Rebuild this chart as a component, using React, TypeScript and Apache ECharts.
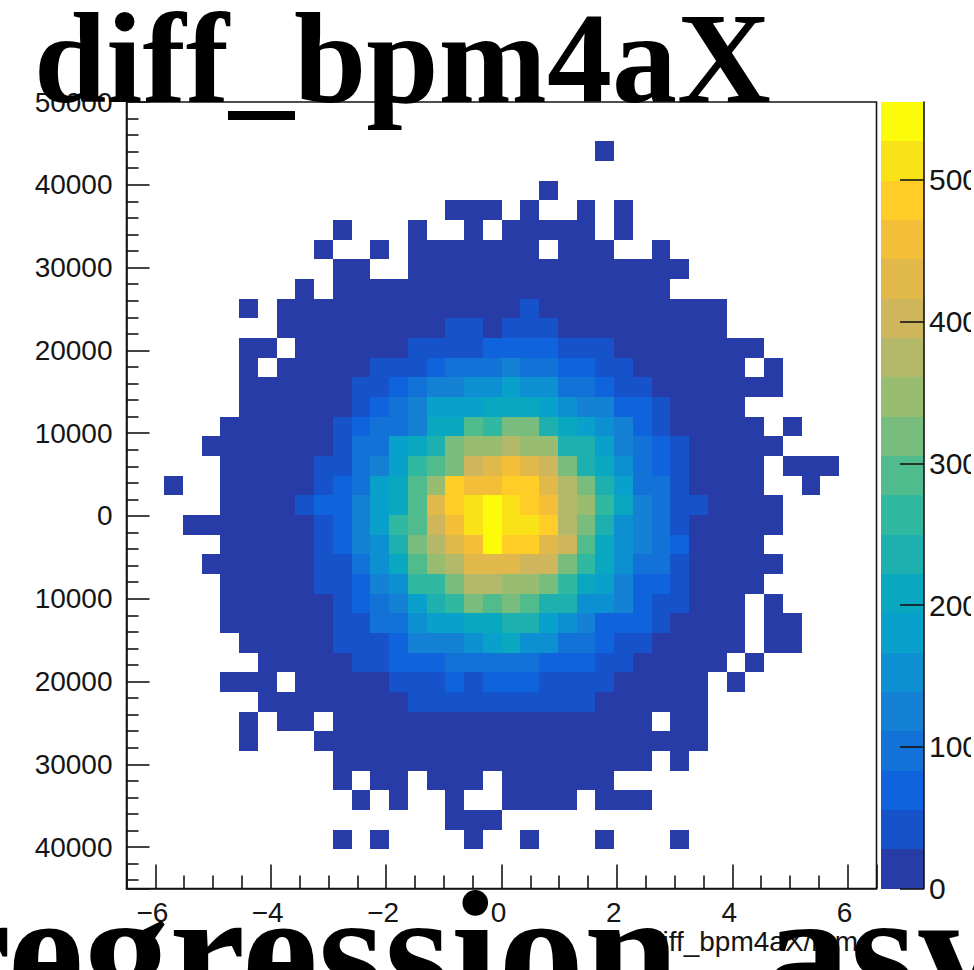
import React, { useEffect, useRef } from "react";
import * as echarts from "echarts";

const titleText = "diff_bpm4aX";
const lowerText = "regression_asy";
const xAxisTitle = "diff_bpm4aX/mm";

const xRange = [-6.5, 6.5];
const yRange = [-45000, 50000];
const zRange = [0, 555];
const binsPerAxis = 40;

// One representative count for each of the 20 contours
const contourCounts = [14, 42, 69, 97, 125, 153, 180, 208, 236, 264, 291, 319, 347, 375, 402, 430, 458, 486, 513, 541];
const palette = [
  "#273ca6", "#1652c9", "#0f63dc", "#1272d8", "#1481d4", "#0d90d2", "#09a0cc", "#0aa8c0", "#1eb0ae", "#30b8a0",
  "#50bb8c", "#78bd7e", "#98bc70", "#b3b968", "#cfb55c", "#e1b84a", "#f4bf38", "#ffcc28", "#f9e318", "#fbfb0a",
];

// Row number counted from the top, then runs of [first column, last column, contour]
const binRuns: [number, number[][]][] = [
  [2, [[25, 25, 0]]],
  [4, [[22, 22, 0]]],
  [5, [[17, 19, 0], [21, 21, 0], [24, 24, 0], [26, 26, 0]]],
  [6, [[11, 11, 0], [15, 15, 0], [18, 18, 0], [20, 24, 0], [26, 26, 0]]],
  [7, [[10, 10, 0], [13, 13, 0], [15, 21, 0], [23, 25, 0], [28, 28, 0]]],
  [8, [[11, 12, 0], [15, 29, 0]]],
  [9, [[9, 9, 0], [11, 28, 0]]],
  [10, [[6, 6, 0], [8, 20, 0], [21, 21, 1], [22, 31, 0]]],
  [11, [[8, 16, 0], [17, 18, 1], [19, 19, 0], [20, 22, 1], [23, 31, 0]]],
  [12, [[6, 7, 0], [9, 14, 0], [15, 18, 1], [19, 22, 2], [23, 25, 1], [26, 33, 0]]],
  [13, [[6, 6, 0], [8, 12, 0], [13, 15, 1], [16, 16, 2], [17, 19, 3], [20, 20, 4], [21, 22, 3], [23, 24, 2], [25, 26, 1], [27, 32, 0], [34, 34, 0]]],
  [14, [[6, 11, 0], [12, 13, 1], [14, 14, 2], [15, 15, 3], [16, 17, 4], [18, 19, 5], [20, 20, 6], [21, 22, 5], [23, 24, 3], [25, 25, 2], [26, 27, 1], [28, 34, 0]]],
  [15, [[6, 11, 0], [12, 12, 1], [13, 13, 2], [14, 14, 3], [15, 15, 4], [16, 18, 6], [19, 21, 7], [22, 22, 6], [23, 23, 5], [24, 25, 4], [26, 27, 2], [28, 28, 1], [29, 32, 0]]],
  [16, [[5, 10, 0], [11, 11, 1], [12, 12, 2], [13, 14, 3], [15, 15, 4], [16, 17, 7], [18, 18, 10], [19, 19, 9], [20, 21, 11], [22, 22, 8], [23, 23, 7], [24, 24, 6], [25, 25, 5], [26, 26, 4], [27, 27, 2], [28, 28, 1], [29, 33, 0], [35, 35, 0]]],
  [17, [[4, 10, 0], [11, 11, 1], [12, 13, 3], [14, 14, 6], [15, 15, 7], [16, 16, 8], [17, 17, 11], [18, 19, 12], [20, 20, 13], [21, 22, 12], [23, 24, 8], [25, 25, 6], [26, 26, 4], [27, 27, 3], [28, 28, 2], [29, 29, 1], [30, 34, 0]]],
  [18, [[5, 9, 0], [10, 11, 1], [12, 12, 3], [13, 13, 4], [14, 14, 6], [15, 15, 9], [16, 16, 10], [17, 17, 11], [18, 18, 14], [19, 19, 15], [20, 20, 16], [21, 21, 15], [22, 22, 14], [23, 23, 11], [24, 24, 8], [25, 25, 7], [26, 26, 5], [27, 27, 3], [28, 28, 2], [29, 29, 1], [30, 33, 0], [35, 37, 0]]],
  [19, [[2, 2, 0], [5, 9, 0], [10, 10, 1], [11, 11, 2], [12, 12, 3], [13, 13, 6], [14, 14, 7], [15, 15, 10], [16, 16, 12], [17, 17, 17], [18, 19, 16], [20, 21, 17], [22, 22, 15], [23, 23, 13], [24, 24, 11], [25, 25, 8], [26, 26, 6], [27, 28, 3], [29, 29, 1], [30, 33, 0], [36, 36, 0]]],
  [20, [[5, 8, 0], [9, 9, 1], [10, 11, 2], [12, 12, 4], [13, 13, 6], [14, 14, 7], [15, 15, 10], [16, 16, 15], [17, 17, 17], [18, 18, 18], [19, 19, 19], [20, 20, 18], [21, 21, 17], [22, 22, 16], [23, 23, 13], [24, 24, 12], [25, 25, 9], [26, 26, 7], [27, 27, 4], [28, 28, 3], [29, 30, 1], [31, 34, 0]]],
  [21, [[3, 9, 0], [10, 10, 1], [11, 11, 2], [12, 12, 4], [13, 13, 6], [14, 14, 9], [15, 15, 10], [16, 16, 14], [17, 17, 16], [18, 18, 18], [19, 19, 19], [20, 21, 18], [22, 22, 17], [23, 23, 13], [24, 24, 11], [25, 25, 8], [26, 26, 5], [27, 27, 4], [28, 28, 3], [29, 29, 1], [30, 34, 0]]],
  [22, [[5, 9, 0], [10, 10, 1], [11, 11, 2], [12, 12, 4], [13, 13, 5], [14, 14, 8], [15, 15, 11], [16, 16, 13], [17, 17, 15], [18, 18, 16], [19, 19, 19], [20, 21, 17], [22, 22, 15], [23, 23, 14], [24, 24, 10], [25, 25, 7], [26, 26, 5], [27, 27, 4], [28, 28, 3], [29, 29, 2], [30, 33, 0]]],
  [23, [[4, 9, 0], [10, 11, 1], [12, 12, 3], [13, 13, 5], [14, 14, 7], [15, 15, 10], [16, 16, 12], [17, 17, 13], [18, 20, 15], [21, 22, 14], [23, 23, 11], [24, 24, 9], [25, 25, 7], [26, 26, 5], [27, 28, 3], [29, 29, 1], [30, 34, 0]]],
  [24, [[5, 9, 0], [10, 11, 1], [12, 12, 2], [13, 13, 4], [14, 14, 5], [15, 16, 9], [17, 17, 11], [18, 19, 13], [20, 21, 12], [22, 22, 11], [23, 23, 9], [24, 24, 7], [25, 25, 6], [26, 26, 4], [27, 28, 2], [29, 29, 1], [30, 33, 0]]],
  [25, [[5, 10, 0], [11, 11, 1], [12, 12, 2], [13, 13, 3], [14, 14, 4], [15, 15, 6], [16, 16, 8], [17, 17, 9], [18, 18, 11], [19, 19, 10], [20, 20, 11], [21, 21, 10], [22, 23, 8], [24, 25, 5], [26, 26, 4], [27, 27, 2], [28, 29, 1], [30, 32, 0], [34, 34, 0]]],
  [26, [[5, 10, 0], [11, 12, 1], [13, 14, 3], [15, 15, 5], [16, 17, 6], [18, 19, 7], [20, 21, 8], [22, 22, 6], [23, 23, 5], [24, 24, 4], [25, 27, 2], [28, 28, 1], [29, 32, 0], [34, 35, 0]]],
  [27, [[6, 10, 0], [11, 13, 1], [14, 14, 2], [15, 17, 4], [18, 18, 5], [19, 19, 6], [20, 20, 7], [21, 22, 5], [23, 24, 3], [25, 25, 2], [26, 27, 1], [28, 32, 0], [34, 35, 0]]],
  [28, [[7, 11, 0], [12, 13, 1], [14, 16, 2], [17, 21, 3], [22, 24, 2], [25, 26, 1], [27, 31, 0], [33, 33, 0]]],
  [29, [[5, 7, 0], [9, 13, 0], [14, 16, 1], [17, 17, 2], [18, 18, 1], [19, 21, 2], [22, 25, 1], [26, 30, 0], [32, 32, 0]]],
  [30, [[7, 14, 0], [15, 24, 1], [25, 30, 0]]],
  [31, [[6, 6, 0], [8, 9, 0], [11, 27, 0], [29, 30, 0]]],
  [32, [[6, 6, 0], [10, 30, 0]]],
  [33, [[11, 27, 0], [29, 29, 0]]],
  [34, [[11, 11, 0], [13, 14, 0], [16, 18, 0], [20, 25, 0]]],
  [35, [[12, 12, 0], [14, 14, 0], [17, 17, 0], [20, 23, 0], [25, 27, 0]]],
  [36, [[17, 19, 0]]],
  [37, [[11, 11, 0], [13, 13, 0], [18, 18, 0], [21, 21, 0], [25, 25, 0], [29, 29, 0]]],
];

const FONT = "'Liberation Sans', Arial, sans-serif";
const SERIF = "'Liberation Serif', 'Times New Roman', serif";
const INK = "#151515";

const App = () => {
  const ref = useRef<HTMLDivElement | null>(null);
  useEffect(() => {
    const chart = echarts.init(ref.current!, undefined, { renderer: "svg" });
    const binW = (xRange[1] - xRange[0]) / binsPerAxis;
    const binH = (yRange[1] - yRange[0]) / binsPerAxis;
    const step = zRange[1] / palette.length;

    const cells: number[][] = [];
    binRuns.forEach(([row, runs]) => {
      runs.forEach(([from, to, contour]) => {
        for (let col = from; col <= to; col++) {
          cells.push([
            xRange[0] + (col + 0.5) * binW,
            yRange[1] - (row + 0.5) * binH,
            contourCounts[contour],
          ]);
        }
      });
    });

    const crispRect = (a: number[], b: number[], fill: string) => {
      const x0 = Math.round(a[0]);
      const y0 = Math.round(a[1]);
      return {
        type: "rect",
        shape: { x: x0, y: y0, width: Math.round(b[0]) - x0, height: Math.round(b[1]) - y0 },
        style: { fill },
      };
    };

    const renderCell = (_: unknown, api: any) => {
      const x = api.value(0);
      const y = api.value(1);
      const fill = palette[Math.min(palette.length - 1, Math.floor(api.value(2) / step))];
      return crispRect(api.coord([x - binW / 2, y + binH / 2]), api.coord([x + binW / 2, y - binH / 2]), fill);
    };

    const renderBand = (_: unknown, api: any) => {
      const i = api.value(0);
      return crispRect(api.coord([0, (i + 1) * step]), api.coord([1, i * step]), palette[i]);
    };

    const tickLine = { lineStyle: { color: INK, width: 1.6 } };

    chart.setOption({
      animation: false,
      backgroundColor: "#ffffff",
      grid: [
        { left: 126.5, top: 102, width: 750, height: 786.5, show: true, backgroundColor: "#ffffff", borderColor: INK, borderWidth: 1.6, outerBoundsMode: "none" },
        { left: 880.5, top: 102, width: 43.5, height: 786.5, outerBoundsMode: "none" },
      ],
      xAxis: [
        {
          type: "value", gridIndex: 0, min: xRange[0], max: xRange[1], splitNumber: 6, z: 5,
          splitLine: { show: false },
          axisLine: { show: true, onZero: false, ...tickLine },
          axisTick: { show: true, inside: true, length: 24, ...tickLine },
          minorTick: { show: true, splitNumber: 4, length: 13, ...tickLine },
          axisLabel: {
            show: true, margin: 10, fontFamily: FONT, fontSize: 28, color: INK,
            showMinLabel: false, showMaxLabel: false, padding: [0, 6, 0, 0],
            formatter: (v: number) => String(v).replace("-", "\u2212"),
          },
        },
        { type: "value", gridIndex: 1, min: 0, max: 1, show: false },
      ],
      yAxis: [
        {
          type: "value", gridIndex: 0, min: yRange[0], max: yRange[1], splitNumber: 10, z: 5,
          splitLine: { show: false },
          axisLine: { show: true, onZero: false, ...tickLine },
          axisTick: { show: true, inside: true, length: 23, ...tickLine },
          minorTick: { show: true, splitNumber: 5, length: 12, ...tickLine },
          axisLabel: {
            show: true, margin: 14, fontFamily: FONT, fontSize: 28, color: INK,
            showMinLabel: false, padding: [5, 0, 0, 0],
            formatter: (v: number) => String(Math.abs(v)),
          },
        },
        {
          type: "value", gridIndex: 1, position: "right", min: zRange[0], max: zRange[1], splitNumber: 6, z: 5,
          splitLine: { show: false },
          axisLine: { show: true, onZero: false, lineStyle: { color: INK, width: 1.6 } },
          axisTick: { show: true, inside: true, length: 24, ...tickLine },
          axisLabel: {
            show: true, margin: 5, fontFamily: FONT, fontSize: 30, color: INK, showMaxLabel: false, padding: [5, 0, 0, 0],
          },
        },
      ],
      series: [
        {
          type: "custom", name: "diff_bpm4aX", xAxisIndex: 0, yAxisIndex: 0,
          coordinateSystem: "cartesian2d", renderItem: renderCell, data: cells,
          encode: { x: 0, y: 1 }, silent: true, clip: true,
        },
        {
          type: "custom", name: "palette", xAxisIndex: 1, yAxisIndex: 1,
          coordinateSystem: "cartesian2d", renderItem: renderBand,
          data: palette.map((_, i) => [i]), encode: { y: 0 }, silent: true,
        },
      ],
      graphic: [
        {
          type: "text", z: 50, x: 858, y: 941,
          style: { text: xAxisTitle, font: `28px ${FONT}`, fill: INK, textAlign: "right", textVerticalAlign: "middle" },
        },
        {
          type: "text", z: 60, x: 34, y: -7,
          style: { text: titleText, font: `bold 130px ${SERIF}`, fill: "#000000", textAlign: "left", textVerticalAlign: "top" },
        },
        {
          type: "text", z: 60, x: -65, y: 866,
          style: { text: lowerText, font: `bold 171px ${SERIF}`, fill: "#000000", textAlign: "left", textVerticalAlign: "top" },
        },
        { type: "rect", z: 70, shape: { x: 971, y: 120, width: 3, height: 790 }, style: { fill: "#ffffff" } },
      ],
    });
    return () => chart.dispose();
  }, []);
  return <div ref={ref} style={{ position: "fixed", left: 0, top: 0, width: 974, height: 970, overflow: "hidden" }} />;
};

export default App;
